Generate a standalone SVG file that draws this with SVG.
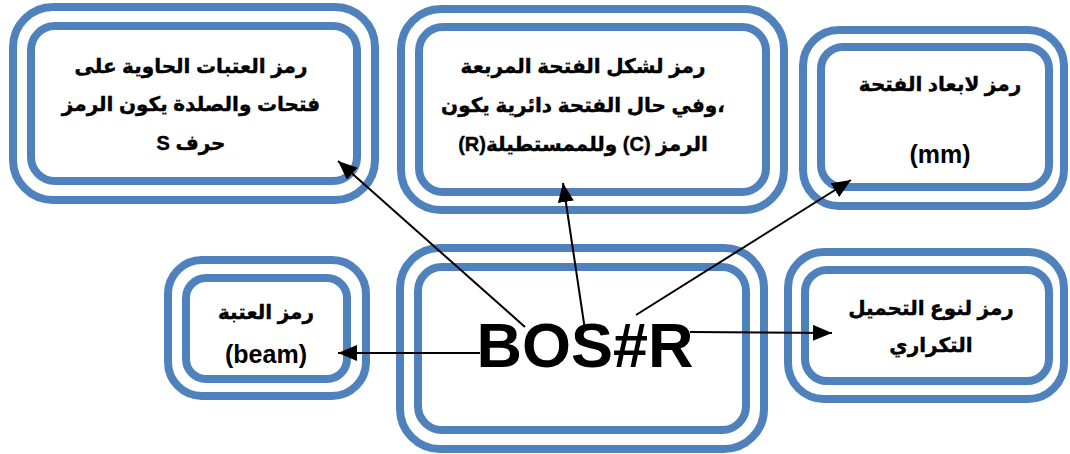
<svg xmlns="http://www.w3.org/2000/svg" width="1070" height="454" viewBox="0 0 1070 454">
<defs>
<style>
.ring{fill:none;stroke:#4F81BD;stroke-width:8}
.t{font-family:"Liberation Sans","DejaVu Sans",sans-serif;font-weight:bold;font-size:20px;fill:#000;stroke:#000;stroke-width:0.4;text-anchor:middle}
.l{font-family:"Liberation Sans",Arial,sans-serif;font-weight:bold;font-size:25px;fill:#000;text-anchor:middle}
.big{font-family:"Liberation Sans",Arial,sans-serif;font-weight:bold;font-size:63px;fill:#000;text-anchor:middle}
.c{stroke:#000;stroke-width:2;fill:none;marker-end:url(#ah)}
</style>
<marker id="ah" markerUnits="userSpaceOnUse" markerWidth="20" markerHeight="16" refX="19" refY="8" orient="auto">
<path d="M0,0 L19,8 L0,16 Z" fill="#000"/>
</marker>
</defs>
<rect width="1070" height="454" fill="#fff"/>
<g id="node-girders">
<rect class="ring" x="13" y="7" width="362" height="193" rx="40"/>
<rect class="ring" x="31" y="26" width="326" height="155" rx="24"/>
<text class="t" direction="rtl" x="191" y="73">رمز العتبات الحاوية على</text>
<text class="t" direction="rtl" x="191" y="111">فتحات والصلدة يكون الرمز</text>
<text class="t" direction="rtl" x="191" y="150">حرف S</text>
</g>
<g id="node-shape">
<rect class="ring" x="401" y="9" width="383" height="201" rx="40"/>
<rect class="ring" x="419" y="27" width="347" height="165" rx="24"/>
<text class="t" direction="rtl" x="583" y="73">رمز لشكل الفتحة المربعة</text>
<text class="t" direction="rtl" x="583" y="112">،وفي حال الفتحة دائرية يكون</text>
<text class="t" direction="rtl" x="583" y="151">الرمز (C) وللممستطيلة(R)</text>
</g>
<g id="node-dims">
<rect class="ring" x="803" y="30" width="261" height="176" rx="36"/>
<rect class="ring" x="821" y="47" width="228" height="140" rx="22"/>
<text class="t" direction="rtl" x="940" y="91">رمز لابعاد الفتحة</text>
<text class="l" x="940" y="163">(mm)</text>
</g>
<g id="node-beam">
<rect class="ring" x="168" y="260" width="198" height="136" rx="34"/>
<rect class="ring" x="186" y="278" width="161" height="101" rx="20"/>
<text class="t" direction="rtl" x="266" y="319">رمز العتبة</text>
<text class="l" x="266" y="363">(beam)</text>
</g>
<g id="node-code">
<rect class="ring" x="400" y="248" width="364" height="201" rx="40"/>
<rect class="ring" x="418" y="267" width="328" height="163" rx="24"/>
<text class="big" x="585" y="367">BOS#R</text>
</g>
<g id="node-load">
<rect class="ring" x="788" y="252" width="276" height="147" rx="36"/>
<rect class="ring" x="805" y="270" width="244" height="111" rx="22"/>
<text class="t" direction="rtl" x="931" y="315">رمز لنوع التحميل</text>
<text class="t" direction="rtl" x="931" y="352">التكراري</text>
</g>
<g id="connectors">
<line class="c" x1="525" y1="327" x2="338" y2="161"/>
<line class="c" x1="585" y1="330" x2="563" y2="183"/>
<line class="c" x1="636" y1="315" x2="851" y2="180"/>
<line class="c" x1="480" y1="353" x2="338" y2="353"/>
<line class="c" x1="690" y1="332" x2="832" y2="333"/>
</g>
</svg>
